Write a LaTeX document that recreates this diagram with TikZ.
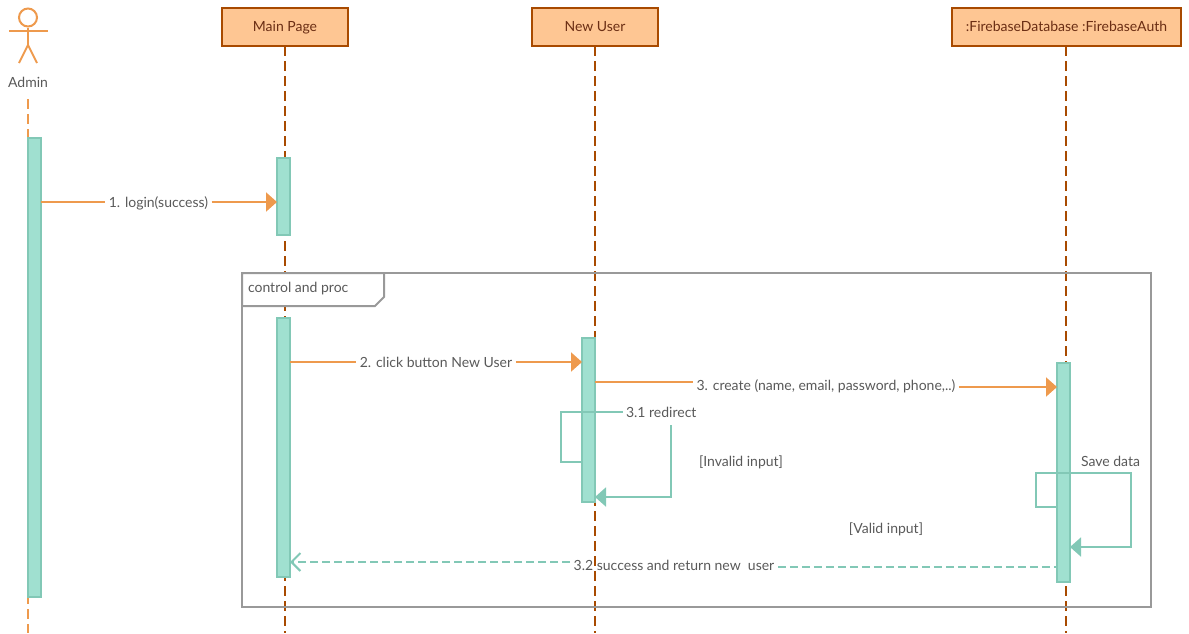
\documentclass[tikz,border=0pt]{standalone}
\usepackage{fontspec}
\setmainfont{Lato}
\usetikzlibrary{arrows.meta,calc}
\definecolor{brownline}{HTML}{A84A00}
\definecolor{headfill}{HTML}{FEC693}
\definecolor{headtext}{HTML}{6B2E14}
\definecolor{orangeline}{HTML}{EE9A4D}
\definecolor{tealline}{HTML}{82C8B6}
\definecolor{tealfill}{HTML}{A0E0D0}
\definecolor{graytext}{HTML}{595959}
\definecolor{frameline}{HTML}{999999}
\tikzset{
  header/.style={draw=brownline,fill=headfill,line width=2pt,minimum height=38pt,inner sep=0pt,outer sep=0pt,text=headtext,font=\fontsize{14}{16}\selectfont,text height=8pt,text depth=0pt},
  lifeline/.style={draw=brownline,line width=2.2pt,dash pattern=on 10pt off 5pt},
  adminline/.style={draw=orangeline,line width=2pt,dash pattern=on 10pt off 5pt},
  activation/.style={draw=tealline,fill=tealfill,line width=2pt,minimum width=13pt,inner sep=0pt,outer sep=0pt},
  msg/.style={text=graytext,inner xsep=3.5pt,inner ysep=2pt,outer sep=0pt,font=\fontsize{14}{16}\selectfont,text height=10pt,text depth=0pt},
  callline/.style={draw=orangeline,line width=2pt},
  callarrow/.style={callline,-{Triangle[length=11pt,width=19pt]}},
  selfline/.style={draw=tealline,line width=2pt},
  selfarrow/.style={selfline,-{Triangle[length=11pt,width=19pt]}},
  returnline/.style={draw=tealline,line width=2pt,dash pattern=on 8pt off 4pt},
  returnarrow/.style={returnline,-{Straight Barb[length=9pt,width=18pt,line width=2pt,sharp]}},
  actorline/.style={draw=orangeline,line width=2pt},
  framebox/.style={draw=frameline,line width=2pt},
}
\begin{document}
\begin{tikzpicture}[x=1pt,y=-1pt]
\useasboundingbox (0,0) rectangle (1189,633);
% headers
\node[header,minimum width=126pt] (main) at (285,27) {Main Page};
\node[header,minimum width=126pt] (newuser) at (595,27) {New User};
\node[header,minimum width=229pt] (fire) at (1066.5,27) {:FirebaseDatabase :FirebaseAuth};
% lifeline ends
\coordinate (mainend) at (285,633);
\coordinate (newend) at (595,633);
\coordinate (fireend) at (1066,633);
\coordinate (adminstart) at (28,99);
\coordinate (adminend) at (28,633);
\draw[lifeline] (main.south) -- (mainend);
\draw[lifeline] (newuser.south) -- (newend);
\draw[lifeline] (fire.south -| fireend) -- (fireend);
\draw[adminline] (adminstart) -- (adminend);
% actor
\node[draw=orangeline,line width=2pt,circle,minimum size=18pt,inner sep=0pt,fill=white] (head) at (28,17.5) {};
\coordinate (armL) at (9,31);
\coordinate (armR) at (48,31);
\coordinate (hip) at (28,45);
\coordinate (legL) at (19,63);
\coordinate (legR) at (37,63);
\draw[actorline] (armL) -- (armR);
\draw[actorline] (head.south) -- (hip);
\draw[actorline] (legL) -- (hip) -- (legR);
\node[msg] (admin) at (28,82) {Admin};
% frame
\draw[framebox] (242,273) rectangle (1151,607);
\draw[framebox,fill=white] (242,273) -- (384,273) -- (384,297) -- (375,306) -- (242,306) -- cycle;
\node[msg,anchor=west,inner xsep=0pt] (frametitle) at (248,287) {control and proc};
% activations
\node[activation,minimum height=459pt] (actA) at (34,367.5) {};
\node[activation,minimum height=77pt] (actM1) at (283.5,196.5) {};
\node[activation,minimum height=259pt] (actM2) at (283.5,447.5) {};
\node[activation,minimum height=164pt] (actN) at (588.5,420) {};
\node[activation,minimum height=219pt] (actF) at (1063.5,472.5) {};
% labels
\node[msg] (m1) at (158.5,202) {1. login(success)};
\node[msg] (m2) at (436,362) {2. click button New User};
\node[msg] (m3) at (826,385) {3. create (name, email, password, phone,..)};
\node[msg,anchor=west] (m31) at (622.5,412) {3.1 redirect};
\node[msg] (m32) at (674,565) {3.2 success and return new\ \ user};
\node[msg] (inv) at (741,461) {[Invalid input]};
\node[msg] (val) at (886,528) {[Valid input]};
\node[msg] (save) at (1110.5,461) {Save data};
% messages
\draw[callline] (actA.east |- m1) -- (m1.west);
\draw[callarrow] (m1.east) -- (actM1.west |- m1);
\draw[callline] (actM2.east |- m2) -- (m2.west);
\draw[callarrow] (m2.east) -- (actN.west |- m2);
\coordinate (m3a) at (actN.east |- 0,382);
\coordinate (m3b) at (actF.west |- 0,387);
\draw[callline] (m3a) -- (m3a -| m3.west);
\draw[callarrow] (m3b -| m3.east) -- (m3b);
% self message 3.1
\coordinate (r1) at (actN.west |- 0,462);
\coordinate (r2) at (561,462);
\coordinate (r3) at (561,412);
\coordinate (r4) at (671,425);
\coordinate (r5) at (671,497);
\coordinate (r6) at (actN.east |- 0,497);
\draw[selfline] (r1) -- (r2) -- (r3) -- (m31.west);
\draw[selfarrow] (r4) -- (r5) -- (r6);
% self message save data
\coordinate (s1) at (actF.west |- 0,507);
\coordinate (s2) at (1036,507);
\coordinate (s3) at (1036,473);
\coordinate (s4) at (1131,473);
\coordinate (s5) at (1131,547);
\coordinate (s6) at (actF.east |- 0,547);
\draw[selfarrow] (s1) -- (s2) -- (s3) -- (s4) -- (s5) -- (s6);
% return
\coordinate (ra) at (actF.west |- 0,567);
\coordinate (rb) at (actM2.east |- 0,562);
\draw[returnline] (ra -| m32.east) -- (ra);
\draw[returnarrow] (rb -| m32.west) -- (rb);
\end{tikzpicture}
\end{document}
